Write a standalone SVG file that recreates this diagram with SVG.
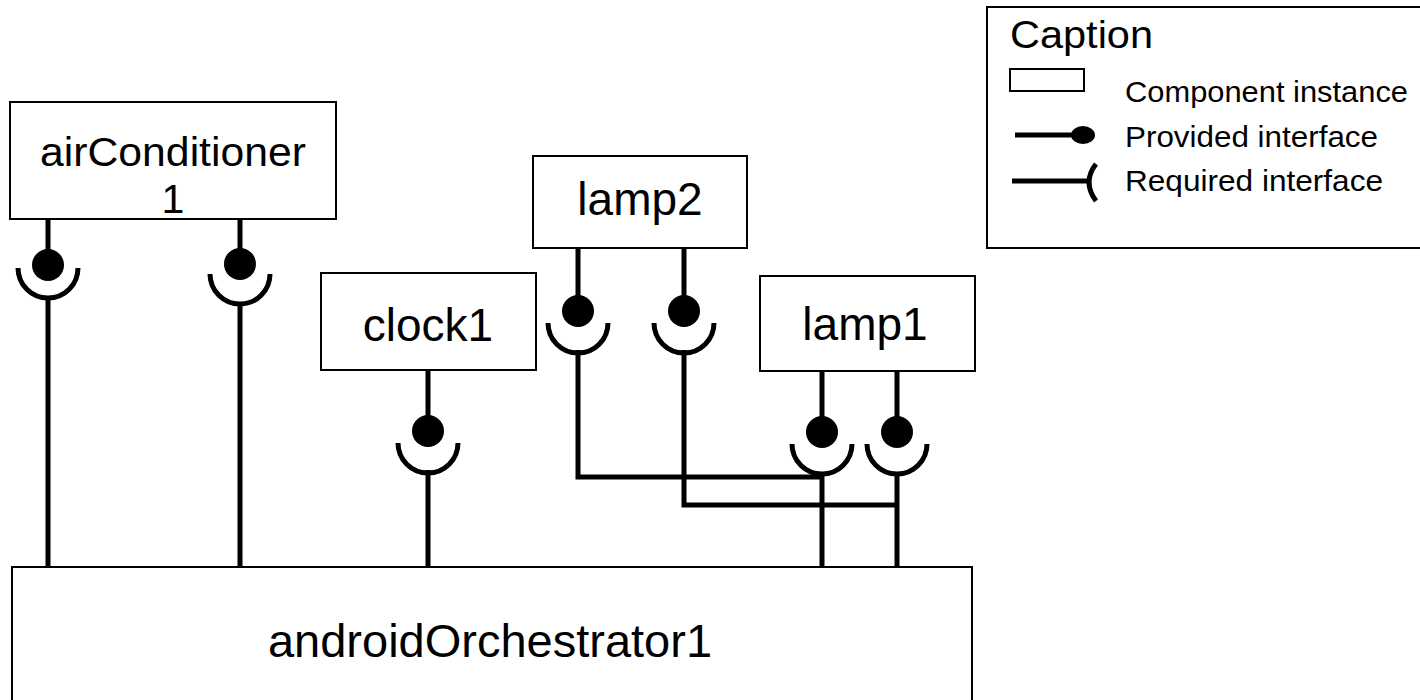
<svg xmlns="http://www.w3.org/2000/svg" width="1420" height="700" viewBox="0 0 1420 700">
<style>
.box{fill:#fff;stroke:#000;stroke-width:2}
.lbl{font-family:"Liberation Sans",Arial,sans-serif;font-size:46px;fill:#000;text-anchor:middle}
.leg{font-family:"Liberation Sans",Arial,sans-serif;font-size:29px;fill:#000}
.w{fill:none;stroke:#000;stroke-width:5}
.ball{fill:#000}
</style>
<rect width="1420" height="700" fill="#fff"/>
<g id="connectors">
  <path class="w" d="M48 219V265M48 296V567"/>
  <circle class="ball" cx="48" cy="265" r="16"/>
  <path class="w" d="M18 268A30 30 0 0 0 78 268"/>
  <path class="w" d="M240 219V264M240 302V567"/>
  <circle class="ball" cx="240" cy="264" r="16"/>
  <path class="w" d="M210 274A30 30 0 0 0 270 274"/>
  <path class="w" d="M428 370V431M428 470V567"/>
  <circle class="ball" cx="428" cy="431" r="16"/>
  <path class="w" d="M398 443A30 30 0 0 0 458 443"/>
  <path class="w" d="M578 248V311M578 350V477H822"/>
  <circle class="ball" cx="578" cy="311" r="16"/>
  <path class="w" d="M548 323A30 30 0 0 0 608 323"/>
  <path class="w" d="M684 248V311M684 350V505H897"/>
  <circle class="ball" cx="684" cy="311" r="16"/>
  <path class="w" d="M654 323A30 30 0 0 0 714 323"/>
  <path class="w" d="M822 371V432M822 472V567"/>
  <circle class="ball" cx="822" cy="432" r="16"/>
  <path class="w" d="M792 444A30 30 0 0 0 852 444"/>
  <path class="w" d="M897 371V432M897 472V567"/>
  <circle class="ball" cx="897" cy="432" r="16"/>
  <path class="w" d="M867 444A30 30 0 0 0 927 444"/>
</g>
<g id="airConditioner1">
  <rect class="box" x="10" y="102" width="326" height="117"/>
  <text class="lbl" x="173" y="166" style="font-size:41px" textLength="266" lengthAdjust="spacingAndGlyphs">airConditioner</text>
  <text class="lbl" x="173" y="213" style="font-size:41px">1</text>
</g>
<g id="clock1">
  <rect class="box" x="321" y="273" width="215" height="97"/>
  <text class="lbl" x="428" y="341">clock1</text>
</g>
<g id="lamp2">
  <rect class="box" x="533" y="156" width="214" height="92"/>
  <text class="lbl" x="640" y="215">lamp2</text>
</g>
<g id="lamp1">
  <rect class="box" x="760" y="276" width="215" height="95"/>
  <text class="lbl" x="865" y="340">lamp1</text>
</g>
<g id="androidOrchestrator1">
  <rect class="box" x="12" y="567" width="960" height="145"/>
  <text class="lbl" x="490" y="657" style="font-size:47px">androidOrchestrator1</text>
</g>
<g id="caption">
  <rect class="box" x="987" y="7" width="440" height="241"/>
  <text class="leg" x="1010" y="48" style="font-size:38px" textLength="143" lengthAdjust="spacingAndGlyphs">Caption</text>
  <rect class="box" x="1010" y="69" width="74" height="22"/>
  <text class="leg" x="1125" y="102" textLength="283" lengthAdjust="spacingAndGlyphs">Component instance</text>
  <line class="w" x1="1015" y1="135" x2="1075" y2="135"/>
  <ellipse class="ball" cx="1083" cy="135" rx="12" ry="9"/>
  <text class="leg" x="1125" y="147" textLength="253" lengthAdjust="spacingAndGlyphs">Provided interface</text>
  <line class="w" x1="1012" y1="181" x2="1088" y2="181"/>
  <path class="w" d="M1096 164Q1082 182 1096 201"/>
  <text class="leg" x="1125" y="191" textLength="258" lengthAdjust="spacingAndGlyphs">Required interface</text>
</g>
</svg>
